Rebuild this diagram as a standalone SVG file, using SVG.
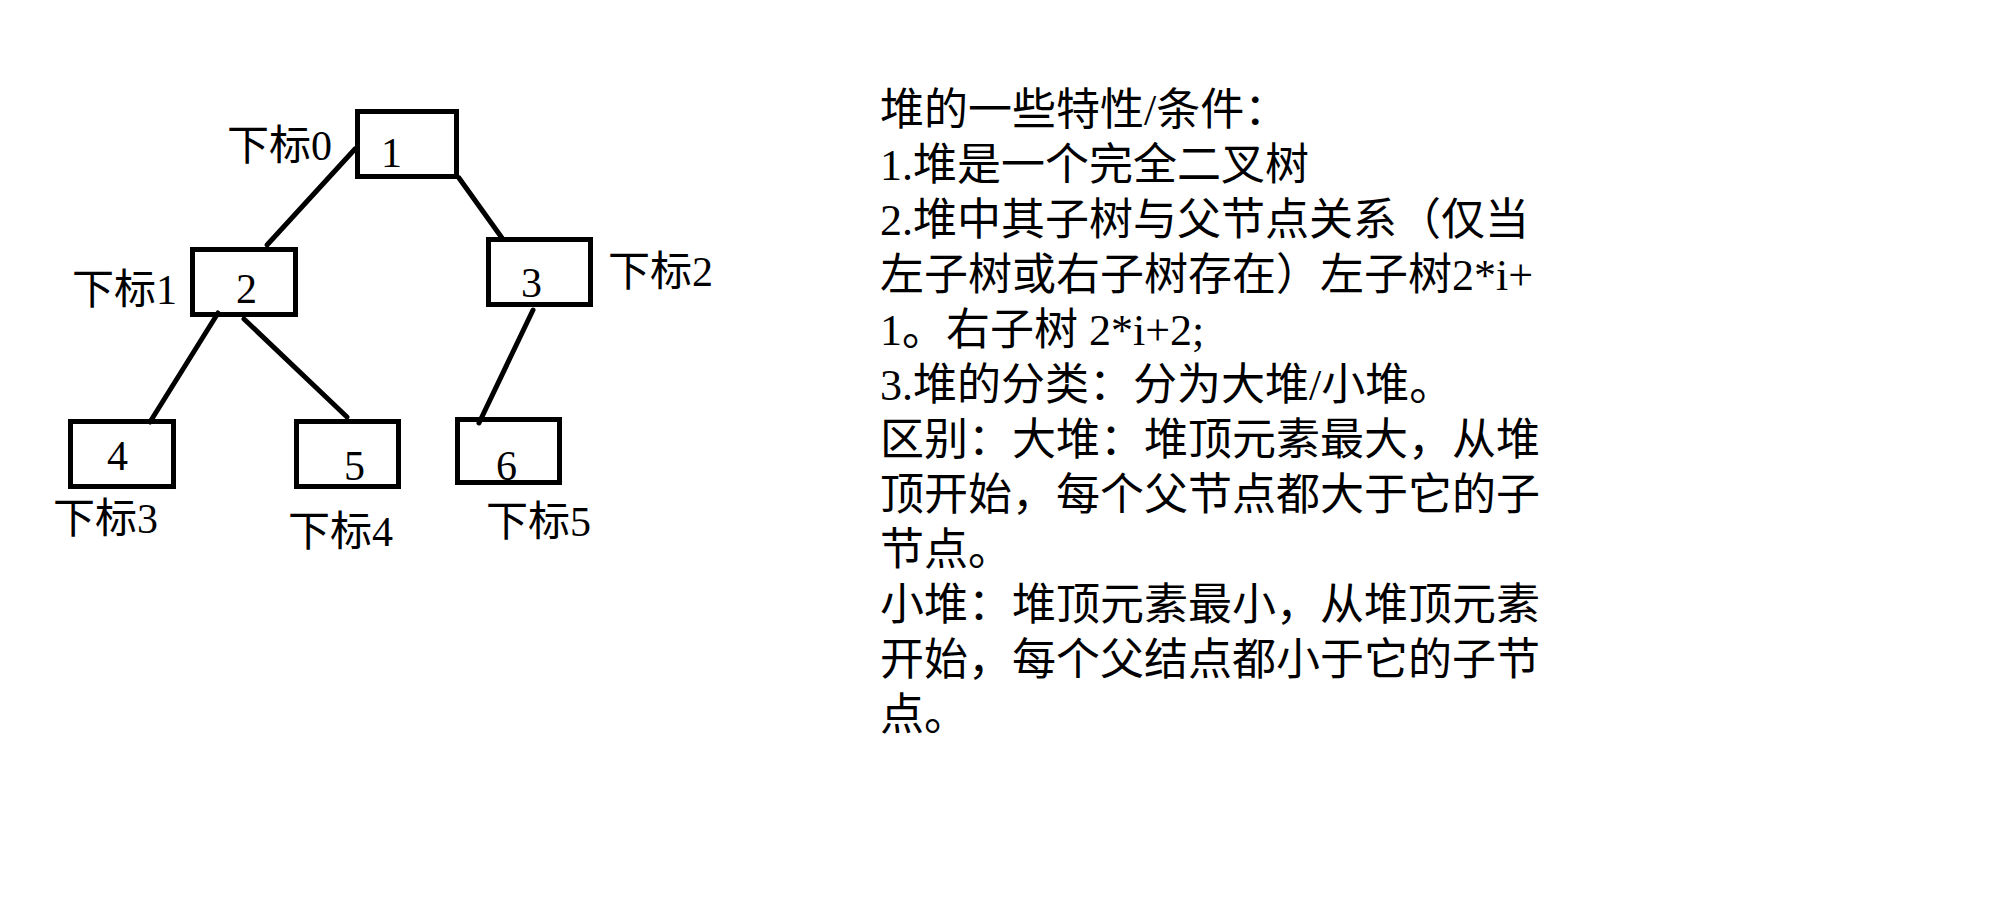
<svg xmlns="http://www.w3.org/2000/svg" width="2000" height="907" viewBox="0 0 2000 907">
<style>
.box{fill:none;stroke:#000;stroke-width:5}
.edge{stroke:#000;stroke-width:5;stroke-linecap:round}
.num{font-family:"Liberation Serif","Noto Sans CJK SC",serif;font-size:42px;fill:#000}
.lbl{font-family:"Liberation Serif","Noto Sans CJK SC",serif;font-size:42px;fill:#000}
.body{font-family:"Liberation Serif","Noto Sans CJK SC",serif;font-size:44px;fill:#000}
</style>
<rect x="0" y="0" width="2000" height="907" fill="#fff"/>
<g id="connectors">
<line class="edge" x1="355" y1="149" x2="267" y2="245"/>
<line class="edge" x1="459" y1="178" x2="502" y2="238"/>
<line class="edge" x1="218" y1="313" x2="150" y2="422"/>
<line class="edge" x1="244" y1="319" x2="347" y2="417"/>
<line class="edge" x1="533" y1="310" x2="479" y2="423"/>
</g>
<g id="node0">
<rect class="box" x="357.5" y="111.5" width="99" height="65"/>
<text class="num" x="381" y="167">1</text>
<text class="lbl" x="227" y="160">下标0</text>
</g>
<g id="node1">
<rect class="box" x="192.5" y="249.5" width="103" height="65"/>
<text class="num" x="236" y="303">2</text>
<text class="lbl" x="72" y="304">下标1</text>
</g>
<g id="node2">
<rect class="box" x="488.5" y="239.5" width="102" height="65"/>
<text class="num" x="521" y="297">3</text>
<text class="lbl" x="608" y="286">下标2</text>
</g>
<g id="node3">
<rect class="box" x="70.5" y="421.5" width="103" height="65"/>
<text class="num" x="107" y="470">4</text>
<text class="lbl" x="53" y="533">下标3</text>
</g>
<g id="node4">
<rect class="box" x="296.5" y="421.5" width="102" height="65"/>
<text class="num" x="344" y="480">5</text>
<text class="lbl" x="288" y="546">下标4</text>
</g>
<g id="node5">
<rect class="box" x="457.5" y="419.5" width="102" height="63"/>
<text class="num" x="496" y="480">6</text>
<text class="lbl" x="486" y="536">下标5</text>
</g>
<g id="notes">
<text class="body" x="880" y="125">堆的一些特性/条件：</text>
<text class="body" x="880" y="180">1.堆是一个完全二叉树</text>
<text class="body" x="880" y="235">2.堆中其子树与父节点关系（仅当</text>
<text class="body" x="880" y="290">左子树或右子树存在）左子树2*i+</text>
<text class="body" x="880" y="345">1。右子树 2*i+2;</text>
<text class="body" x="880" y="400">3.堆的分类：分为大堆/小堆。</text>
<text class="body" x="880" y="455">区别：大堆：堆顶元素最大，从堆</text>
<text class="body" x="880" y="510">顶开始，每个父节点都大于它的子</text>
<text class="body" x="880" y="565">节点。</text>
<text class="body" x="880" y="620">小堆：堆顶元素最小，从堆顶元素</text>
<text class="body" x="880" y="675">开始，每个父结点都小于它的子节</text>
<text class="body" x="880" y="730">点。</text>
</g>
</svg>
